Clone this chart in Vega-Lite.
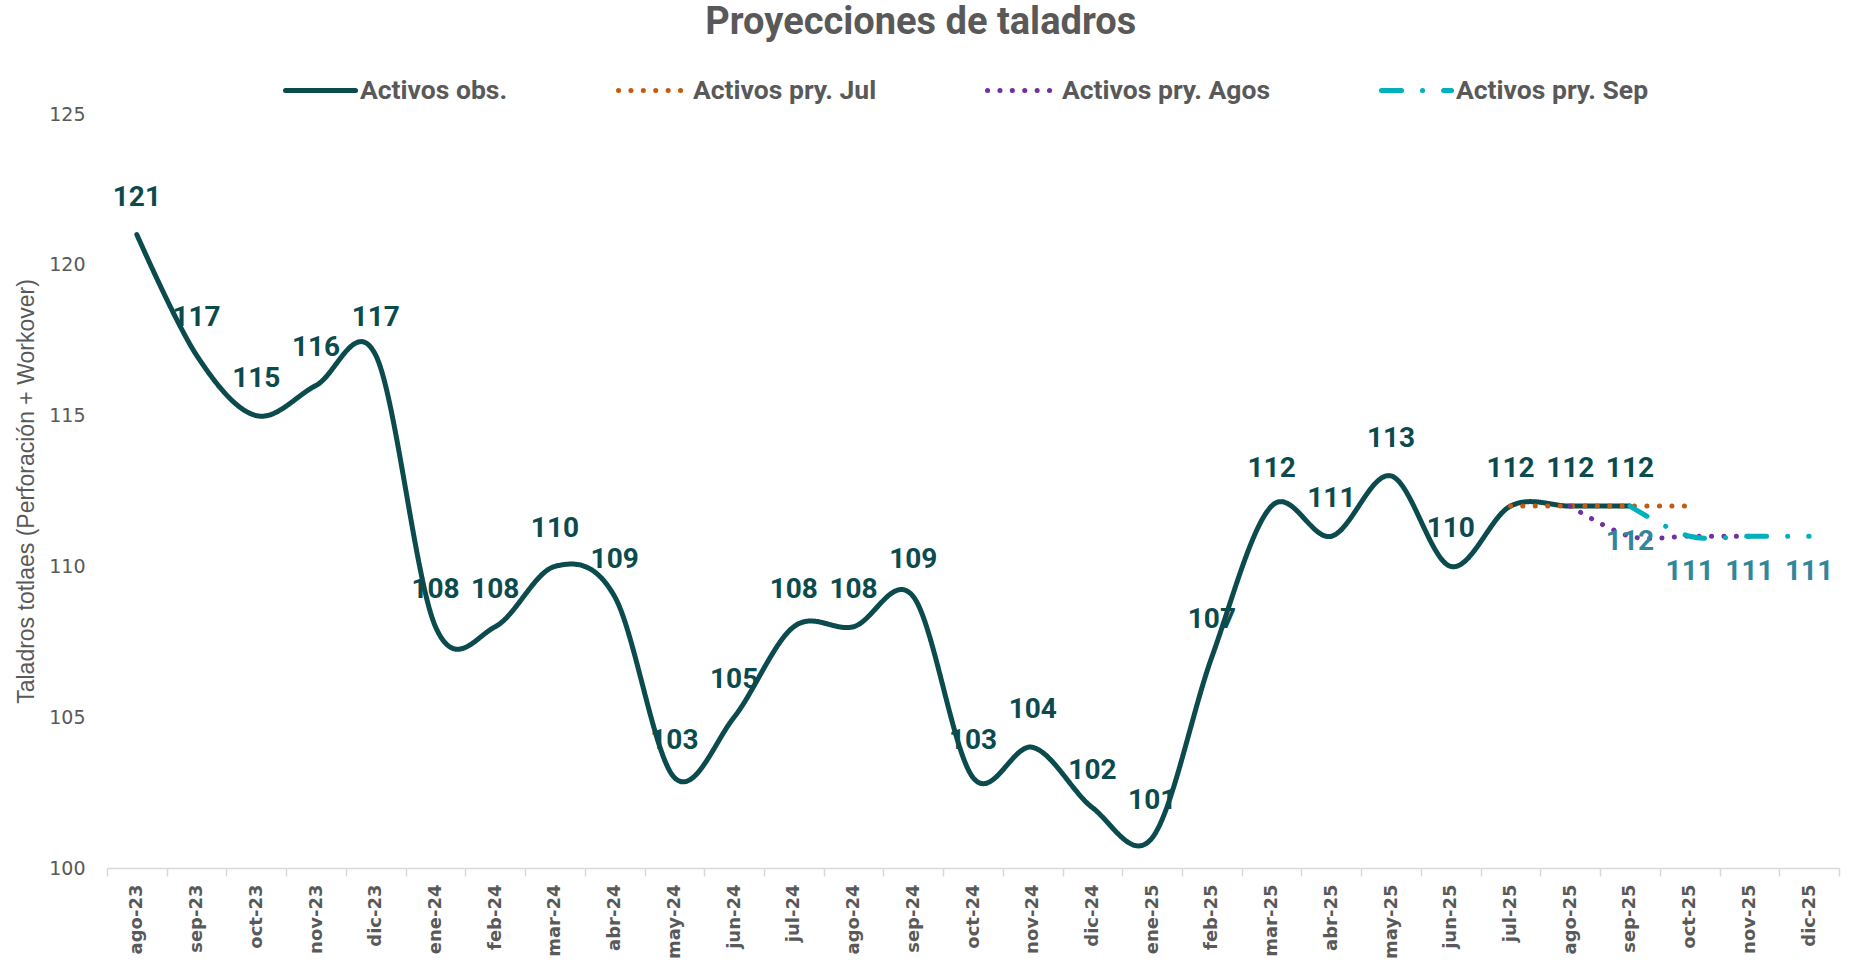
{
  "$schema": "https://vega.github.io/schema/vega-lite/v6.json",
  "width": 1732,
  "height": 754,
  "autosize": {"type": "none"},
  "padding": {"left": 107, "top": 114, "right": 12, "bottom": 96},
  "background": "white",
  "title": {
    "text": "Proyecciones de taladros",
    "font": "Roboto",
    "fontSize": 38,
    "fontWeight": "bold",
    "color": "#595959",
    "anchor": "middle",
    "frame": "bounds",
    "offset": 11,
    "dx": -7
  },
  "config": {"view": {"stroke": null}},
  "data": {
    "values": [
      {"mes": "ago-23", "serie": "Activos obs.", "valor": 121},
      {"mes": "sep-23", "serie": "Activos obs.", "valor": 117},
      {"mes": "oct-23", "serie": "Activos obs.", "valor": 115},
      {"mes": "nov-23", "serie": "Activos obs.", "valor": 116},
      {"mes": "dic-23", "serie": "Activos obs.", "valor": 117},
      {"mes": "ene-24", "serie": "Activos obs.", "valor": 108},
      {"mes": "feb-24", "serie": "Activos obs.", "valor": 108},
      {"mes": "mar-24", "serie": "Activos obs.", "valor": 110},
      {"mes": "abr-24", "serie": "Activos obs.", "valor": 109},
      {"mes": "may-24", "serie": "Activos obs.", "valor": 103},
      {"mes": "jun-24", "serie": "Activos obs.", "valor": 105},
      {"mes": "jul-24", "serie": "Activos obs.", "valor": 108},
      {"mes": "ago-24", "serie": "Activos obs.", "valor": 108},
      {"mes": "sep-24", "serie": "Activos obs.", "valor": 109},
      {"mes": "oct-24", "serie": "Activos obs.", "valor": 103},
      {"mes": "nov-24", "serie": "Activos obs.", "valor": 104},
      {"mes": "dic-24", "serie": "Activos obs.", "valor": 102},
      {"mes": "ene-25", "serie": "Activos obs.", "valor": 101},
      {"mes": "feb-25", "serie": "Activos obs.", "valor": 107},
      {"mes": "mar-25", "serie": "Activos obs.", "valor": 112},
      {"mes": "abr-25", "serie": "Activos obs.", "valor": 111},
      {"mes": "may-25", "serie": "Activos obs.", "valor": 113},
      {"mes": "jun-25", "serie": "Activos obs.", "valor": 110},
      {"mes": "jul-25", "serie": "Activos obs.", "valor": 112},
      {"mes": "ago-25", "serie": "Activos obs.", "valor": 112},
      {"mes": "sep-25", "serie": "Activos obs.", "valor": 112},
      {"mes": "jul-25", "serie": "Activos pry. Jul", "valor": 112},
      {"mes": "ago-25", "serie": "Activos pry. Jul", "valor": 112},
      {"mes": "sep-25", "serie": "Activos pry. Jul", "valor": 112},
      {"mes": "oct-25", "serie": "Activos pry. Jul", "valor": 112},
      {"mes": "ago-25", "serie": "Activos pry. Agos", "valor": 112},
      {"mes": "sep-25", "serie": "Activos pry. Agos", "valor": 111},
      {"mes": "oct-25", "serie": "Activos pry. Agos", "valor": 111},
      {"mes": "nov-25", "serie": "Activos pry. Agos", "valor": 111},
      {"mes": "sep-25", "serie": "Activos pry. Sep", "valor": 112},
      {"mes": "oct-25", "serie": "Activos pry. Sep", "valor": 111},
      {"mes": "nov-25", "serie": "Activos pry. Sep", "valor": 111},
      {"mes": "dic-25", "serie": "Activos pry. Sep", "valor": 111}
    ]
  },
  "encoding": {
    "x": {
      "field": "mes",
      "type": "nominal",
      "scale": {
        "domain": ["ago-23","sep-23","oct-23","nov-23","dic-23","ene-24","feb-24","mar-24","abr-24","may-24","jun-24","jul-24","ago-24","sep-24","oct-24","nov-24","dic-24","ene-25","feb-25","mar-25","abr-25","may-25","jun-25","jul-25","ago-25","sep-25","oct-25","nov-25","dic-25"],
        "paddingInner": 0,
        "paddingOuter": 0
      },
      "axis": {
        "title": null,
        "labelAngle": -90,
        "labelFont": "DejaVu Sans",
        "labelFontWeight": "bold",
        "labelFontSize": 18,
        "labelColor": "#595959",
        "labelPadding": 8,
        "domainColor": "#D9D9D9",
        "domainWidth": 1.5,
        "tickColor": "#D9D9D9",
        "tickSize": 8,
        "tickWidth": 1.5,
        "tickBand": "extent",
        "grid": false
      }
    },
    "y": {
      "field": "valor",
      "type": "quantitative",
      "scale": {"domain": [100, 125], "zero": false, "nice": false},
      "axis": {
        "title": "Taladros totlaes (Perforación + Workover)",
        "titleFont": "Liberation Sans",
        "titleFontWeight": "normal",
        "titleFontSize": 23,
        "titleColor": "#595959",
        "titlePadding": 10,
        "values": [100, 105, 110, 115, 120, 125],
        "labelFont": "DejaVu Sans",
        "labelFontSize": 19,
        "labelColor": "#595959",
        "labelPadding": 22,
        "domain": false,
        "ticks": false,
        "grid": false
      }
    }
  },
  "layer": [
    {
      "mark": {"type": "line", "interpolate": "cardinal", "strokeWidth": 5, "strokeCap": "round"},
      "encoding": {
        "color": {
          "field": "serie",
          "type": "nominal",
          "scale": {
            "domain": ["Activos obs.", "Activos pry. Jul", "Activos pry. Agos", "Activos pry. Sep"],
            "range": ["#0B4B4D", "#C55A11", "#7030A0", "#00B0BA"]
          },
          "legend": {
            "title": null,
            "orient": "none",
            "direction": "horizontal",
            "legendX": 176,
            "legendY": -61,
            "symbolType": "stroke",
            "symbolSize": 4900,
            "symbolStrokeWidth": 5,
            "labelFont": "Roboto",
            "labelFontWeight": "bold",
            "labelFontSize": 26.5,
            "labelColor": "#595959",
            "labelOffset": 2,
            "columnPadding": 100,
            "padding": 0,
            "labelLimit": 400,
            "encode": {"symbols": {"update": {"strokeCap": {"value": "round"}}}}
          }
        },
        "strokeDash": {
          "field": "serie",
          "type": "nominal",
          "scale": {
            "domain": ["Activos obs.", "Activos pry. Jul", "Activos pry. Agos", "Activos pry. Sep"],
            "range": [[1, 0], [0.1, 12.3], [0.1, 12.3], [20, 21, 0.1, 21]]
          }
        }
      }
    },
    {
      "transform": [{"filter": "datum.serie === 'Activos obs.'"}],
      "mark": {"type": "text", "font": "Roboto", "fontWeight": "bold", "fontSize": 28, "color": "#0B4B4D", "dy": -37, "baseline": "middle"},
      "encoding": {"text": {"field": "valor", "type": "quantitative", "format": ".0f"}}
    },
    {
      "transform": [{"filter": "datum.serie === 'Activos pry. Sep'"}],
      "mark": {"type": "text", "font": "Roboto", "fontWeight": "bold", "fontSize": 28, "color": "#31869B", "dy": 36, "baseline": "middle"},
      "encoding": {"text": {"field": "valor", "type": "quantitative", "format": ".0f"}}
    }
  ]
}
